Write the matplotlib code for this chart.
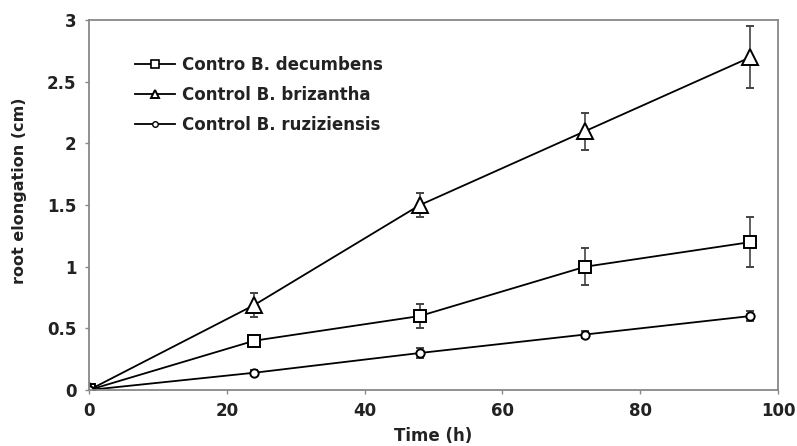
import matplotlib
matplotlib.use("Agg")
import matplotlib.pyplot as plt
from matplotlib.lines import Line2D

plt.rcParams['font.family'] = ['DejaVu Sans']
plt.rcParams['font.weight'] = 'bold'

time_h = [0, 24, 48, 72, 96]
decumbens = [0, 0.40, 0.60, 1.00, 1.20]
decumbens_err = [0.0, 0.03, 0.10, 0.15, 0.20]
brizantha = [0, 0.69, 1.50, 2.10, 2.70]
brizantha_err = [0.0, 0.10, 0.10, 0.15, 0.25]
ruziziensis = [0, 0.14, 0.30, 0.45, 0.60]
ruziziensis_err = [0.0, 0.02, 0.04, 0.03, 0.04]
labels = ["Contro B. decumbens", "Control B. brizantha", "Control B. ruziziensis"]

fig = plt.figure(figsize=(7.97, 4.46), dpi=100)
ax = fig.add_axes([0.1117, 0.1256, 0.8645, 0.829])

common = dict(color='black', lw=1.3, mfc='white', mec='black', mew=1.4,
              ecolor='#444444', elinewidth=1.2, capsize=3, capthick=1.2)
ax.errorbar(time_h, decumbens, yerr=decumbens_err, marker='s', ms=8, **common)
ax.errorbar(time_h, brizantha, yerr=brizantha_err, marker='^', ms=11, **common)
ax.errorbar(time_h, ruziziensis, yerr=ruziziensis_err, marker='o', ms=6, **common)

ax.set_xlim(0, 100)
ax.set_ylim(0, 3)
ax.set_xticks([0, 20, 40, 60, 80, 100])
ax.set_yticks([0, 0.5, 1, 1.5, 2, 2.5, 3])
ax.set_yticklabels(['0', '0.5', '1', '1.5', '2', '2.5', '3'])
ax.tick_params(axis='both', labelsize=12, direction='out', length=3, width=1,
               color='#888888', pad=6, labelcolor='#222222')
for lab in ax.get_xticklabels() + ax.get_yticklabels():
    lab.set_fontweight('bold')
for s in ax.spines.values():
    s.set_color('#888888')
    s.set_linewidth(1.3)

ax.set_xlabel('Time (h)', fontsize=12, fontweight='bold', labelpad=5, color='#222222')
ax.set_ylabel('root elongation (cm)', fontsize=11.5, fontweight='bold', color='#222222')
ax.yaxis.set_label_coords(-0.09, 0.54)

handles = [
    Line2D([], [], color='black', lw=1.3, marker='s', ms=6, mfc='white', mec='black', mew=1.2),
    Line2D([], [], color='black', lw=1.3, marker='^', ms=6, mfc='white', mec='black', mew=1.4),
    Line2D([], [], color='black', lw=1.3, marker='o', ms=4, mfc='white', mec='black', mew=1.0),
]
leg = ax.legend(handles, labels, loc='upper left', bbox_to_anchor=(0.045, 0.945), frameon=False,
                fontsize=12, handlelength=2.4, handletextpad=0.4, labelspacing=0.72)
for t in leg.get_texts():
    t.set_fontweight('bold')
    t.set_color('#222222')

fig.savefig('out.png', dpi=100)
